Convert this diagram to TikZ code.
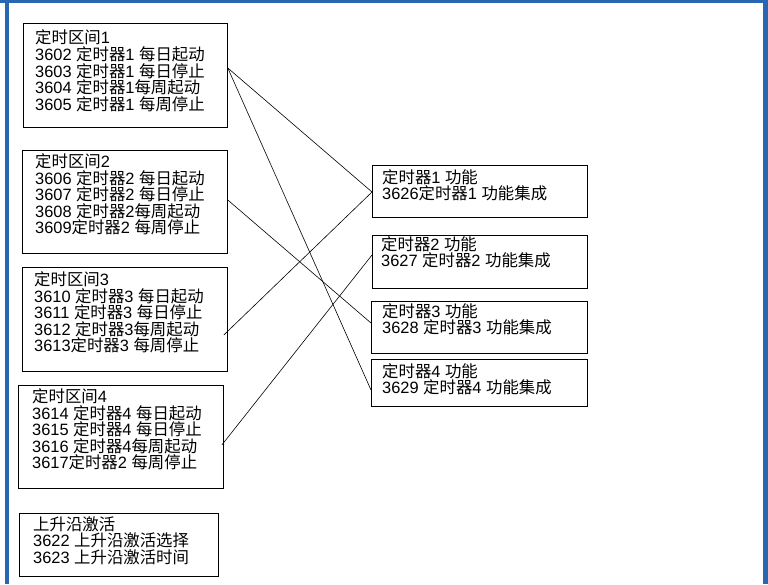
\documentclass[tikz,border=0pt]{standalone}
\usepackage{fontspec}
\setmainfont{Liberation Sans}
\newfontfamily\cjkf{Noto Sans CJK SC}
\newcommand\zh[1]{{\cjkf #1}}
\usetikzlibrary{calc}
\definecolor{frameblue}{RGB}{40,102,178}
\begin{document}
\begin{tikzpicture}[x=1pt,y=-1pt,
  box/.style={draw=black, line width=0.8pt, inner sep=0, anchor=north west},
  txt/.style={anchor=north west, inner sep=0, align=left, font=\fontsize{16.4}{16.6}\selectfont},
  conn/.style={draw=black, line width=0.6pt}]
\useasboundingbox (0,0) rectangle (768,584);
\fill[frameblue] (0,0) rectangle (768,3);
\fill[frameblue] (5,0) rectangle (9,584);
\fill[frameblue] (763,0) rectangle (768,584);

\node[box, minimum width=204, minimum height=104] (b1) at (23,23) {};
\node[box, minimum width=205, minimum height=103] (b2) at (22,150) {};
\node[box, minimum width=205, minimum height=104] (b3) at (22,267) {};
\node[box, minimum width=205, minimum height=103] (b4) at (18,385) {};
\node[box, minimum width=199, minimum height=63] (b5) at (19,513) {};
\node[box, minimum width=215, minimum height=52] (t1) at (372,165) {};
\node[box, minimum width=215, minimum height=53] (t2) at (372,235) {};
\node[box, minimum width=216, minimum height=52] (t3) at (371,301) {};
\node[box, minimum width=216, minimum height=47] (t4) at (371,359) {};

\node[txt] (x1) at (35,29.8) {\zh{定时区间}1\\3602 \zh{定时器}1 \zh{每日起动}\\3603 \zh{定时器}1 \zh{每日停止}\\3604 \zh{定时器}1\zh{每周起动}\\3605 \zh{定时器}1 \zh{每周停止}};
\node[txt] (x2) at (35,153.5) {\zh{定时区间}2\\3606 \zh{定时器}2 \zh{每日起动}\\3607 \zh{定时器}2 \zh{每日停止}\\3608 \zh{定时器}2\zh{每周起动}\\3609\zh{定时器}2 \zh{每周停止}};
\node[txt] (x3) at (34,271.5) {\zh{定时区间}3\\3610 \zh{定时器}3 \zh{每日起动}\\3611 \zh{定时器}3 \zh{每日停止}\\3612 \zh{定时器}3\zh{每周起动}\\3613\zh{定时器}3 \zh{每周停止}};
\node[txt] (x4) at (32,388.5) {\zh{定时区间}4\\3614 \zh{定时器}4 \zh{每日起动}\\3615 \zh{定时器}4 \zh{每日停止}\\3616 \zh{定时器}4\zh{每周起动}\\3617\zh{定时器}2 \zh{每周停止}};
\node[txt] (x5) at (33,516.2) {\zh{上升沿激活}\\3622 \zh{上升沿激活选择}\\3623 \zh{上升沿激活时间}};
\node[txt] (y1) at (382,169.2) {\zh{定时器}1 \zh{功能}\\3626\zh{定时器}1 \zh{功能集成}};
\node[txt] (y2) at (381,236.2) {\zh{定时器}2 \zh{功能}\\3627 \zh{定时器}2 \zh{功能集成}};
\node[txt] (y3) at (382,303.2) {\zh{定时器}3 \zh{功能}\\3628 \zh{定时器}3 \zh{功能集成}};
\node[txt] (y4) at (382,363.2) {\zh{定时器}4 \zh{功能}\\3629 \zh{定时器}4 \zh{功能集成}};

\draw[conn] ($(b1.north east)+(0,45)$) -- ($(t1.north west)+(0,27)$);
\draw[conn] ($(b1.north east)+(0,45)$) -- ($(t4.north west)+(0,31)$);
\draw[conn] ($(b2.north east)+(0,50)$) -- ($(t3.north west)+(0,22)$);
\draw[conn] ($(b3.north east)+(-4,68)$) -- ($(t1.north west)+(0,27)$);
\draw[conn] ($(b4.north east)+(-2,60)$) -- ($(t2.north west)+(0,20)$);
\end{tikzpicture}
\end{document}
